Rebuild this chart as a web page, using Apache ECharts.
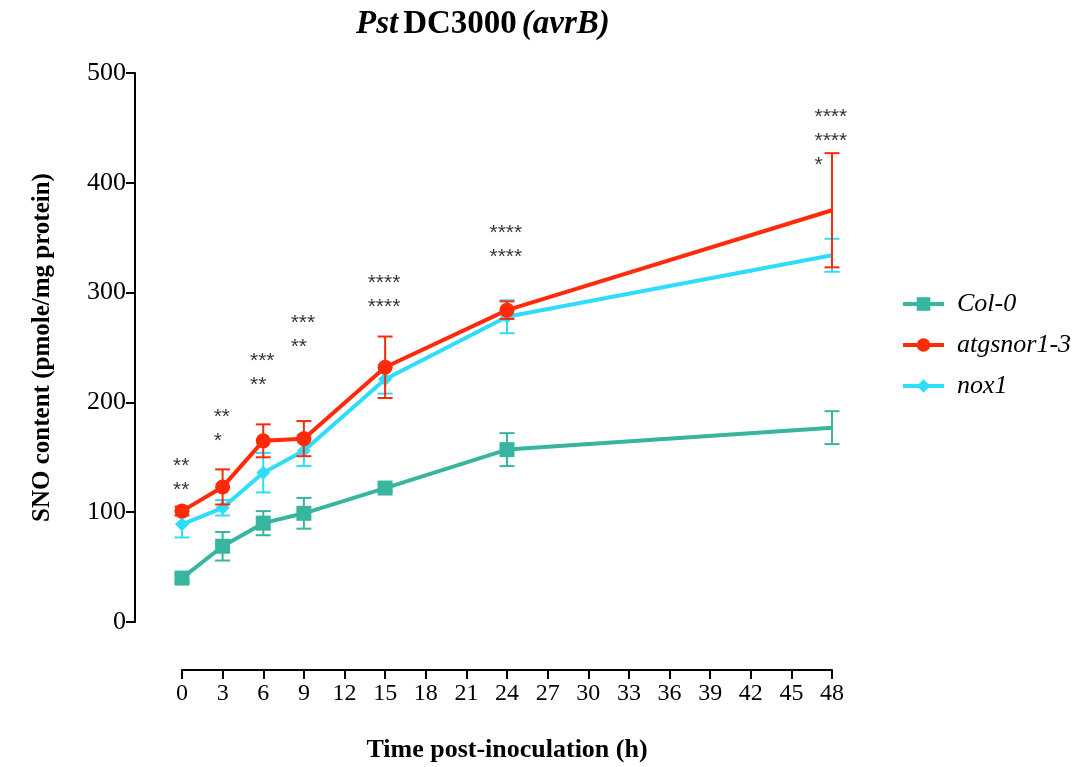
<!DOCTYPE html>
<html><head><meta charset="utf-8">
<script src="https://cdn.jsdelivr.net/npm/echarts@6/dist/echarts.min.js"></script>
<style>html,body{margin:0;padding:0;background:#fff}#c{width:1090px;height:767px}</style>
</head><body><div id="c"></div>
<script>
// ---- data ----
const hours = [0, 3, 6, 9, 15, 24, 48];
const col0Mean = [40, 69, 90, 99, 122, 157, 177];
const col0Err  = [4, 13, 11, 14, 3, 15, 15];
const snorMean = [101, 123, 165, 167, 232, 284, 375];
const snorErr  = [4, 16, 15, 16, 28, 8, 52];
const noxMean  = [89, 104, 136, 156, 221, 278, 334];
const noxErr   = [12, 7, 18, 14, 13, 15, 15];
const annotHours = [0, 3, 6, 9, 15, 24, 48];
const annotTop   = [146, 191, 242, 276, 313, 358, 464];
const annotText  = [['**','**'], ['**','*'], ['***','**'], ['***','**'], ['****','****'], ['****','****'], ['****','****','*']];
const seriesNames = ['Col-0', 'atgsnor1-3', 'nox1'];

const C_COL = '#37b59e', C_SNOR = '#ff2a0a', C_NOX = '#2fdcfc';
const SERIF = '"Liberation Serif", "Times New Roman", serif';
const SANS = '"Liberation Sans", Arial, sans-serif';

function lineSeries(name, mean, color, symbol, size, z) {
  return {
    type: 'line', name: name, z: z,
    data: hours.map((h, i) => i === hours.length - 1 ? {value: [h, mean[i]], symbol: 'none'} : [h, mean[i]]),
    symbol: symbol, symbolSize: size, showSymbol: true,
    lineStyle: {width: 4, color: color}, itemStyle: {color: color},
    emphasis: {disabled: true}, clip: false, animation: false
  };
}
function errSeries(name, mean, err, color, z) {
  return {
    type: 'custom', name: name, z: z, silent: true, clip: false, animation: false,
    data: hours.map((h, i) => [h, mean[i] - err[i], mean[i] + err[i]]),
    encode: {x: 0, y: [1, 2]},
    renderItem: function (params, api) {
      const x = api.value(0);
      const lo = api.coord([x, api.value(1)]);
      const hi = api.coord([x, api.value(2)]);
      const hw = 7.5;
      const st = {stroke: color, lineWidth: 2};
      return {type: 'group', children: [
        {type: 'line', shape: {x1: lo[0], y1: lo[1], x2: hi[0], y2: hi[1]}, style: st},
        {type: 'line', shape: {x1: lo[0] - hw, y1: lo[1], x2: lo[0] + hw, y2: lo[1]}, style: st},
        {type: 'line', shape: {x1: hi[0] - hw, y1: hi[1], x2: hi[0] + hw, y2: hi[1]}, style: st}
      ]};
    }
  };
}

const annotData = annotHours.map((h, i) => {
  const maxLen = Math.max.apply(null, annotText[i].map(s => s.length));
  return {value: [h, annotTop[i]], label: {formatter: annotText[i].join('\n'), offset: [-maxLen * 8.5 / 2, -7]}};
});

const chart = echarts.init(document.getElementById('c'), null, {renderer: 'canvas'});
chart.setOption({
  backgroundColor: '#fff',
  animation: false,
  title: {
    text: '{i|Pst} {b|DC3000} {i|(avrB)}',
    left: 356, top: 8, padding: 0,
    textStyle: {
      rich: {
        i: {fontFamily: SERIF, fontSize: 33, fontWeight: 'bold', fontStyle: 'italic', color: '#000'},
        b: {fontFamily: SERIF, fontSize: 33, fontWeight: 'bold', color: '#000'}
      }
    }
  },
  grid: {left: 182, right: 258, top: 73, bottom: 145, containLabel: false, outerBoundsMode: 'none'},
  legend: {
    orient: 'vertical', left: 896, top: 286,
    data: seriesNames,
    itemWidth: 41, itemHeight: 17, itemGap: 15,
    lineStyle: {width: 4},
    textStyle: {fontFamily: SERIF, fontSize: 26, fontStyle: 'italic', color: '#000', padding: [0, 0, 0, 8]},
    selectedMode: false
  },
  xAxis: {
    type: 'value', min: 0, max: 48, interval: 3, offset: 48,
    name: 'Time post-inoculation (h)', nameLocation: 'middle', nameGap: 67,
    nameTextStyle: {fontFamily: SERIF, fontSize: 26, fontWeight: 'bold', color: '#000'},
    axisLine: {show: true, onZero: false, lineStyle: {color: '#000', width: 2}},
    axisTick: {show: true, inside: false, length: 9, lineStyle: {color: '#000', width: 2}},
    axisLabel: {fontFamily: SERIF, fontSize: 24, color: '#000', margin: 12},
    splitLine: {show: false}
  },
  yAxis: {
    type: 'value', min: 0, max: 500, interval: 100, offset: 47,
    name: 'SNO content (pmole/mg protein)', nameLocation: 'middle', nameGap: 80,
    nameTextStyle: {fontFamily: SERIF, fontSize: 25, fontWeight: 'bold', color: '#000'},
    axisLine: {show: true, onZero: false, lineStyle: {color: '#000', width: 2}},
    axisTick: {show: true, inside: false, length: 9, lineStyle: {color: '#000', width: 2}},
    axisLabel: {fontFamily: SERIF, fontSize: 26, color: '#000', margin: 9},
    splitLine: {show: false}
  },
  series: [
    errSeries('err-col0', col0Mean, col0Err, C_COL, 2),
    lineSeries('Col-0', col0Mean, C_COL, 'rect', 15, 3),
    errSeries('err-nox', noxMean, noxErr, C_NOX, 4),
    lineSeries('nox1', noxMean, C_NOX, 'diamond', 14, 5),
    errSeries('err-snor', snorMean, snorErr, C_SNOR, 6),
    lineSeries('atgsnor1-3', snorMean, C_SNOR, 'circle', 15, 7),
    {
      type: 'scatter', name: 'annot', z: 10, silent: true, clip: false, animation: false,
      symbolSize: 1, itemStyle: {color: 'rgba(0,0,0,0)'},
      data: annotData,
      label: {show: true, position: [0, 0], align: 'left', verticalAlign: 'top',
        fontFamily: SANS, fontSize: 21, lineHeight: 24, color: '#000'}
    }
  ]
});
</script></body></html>
